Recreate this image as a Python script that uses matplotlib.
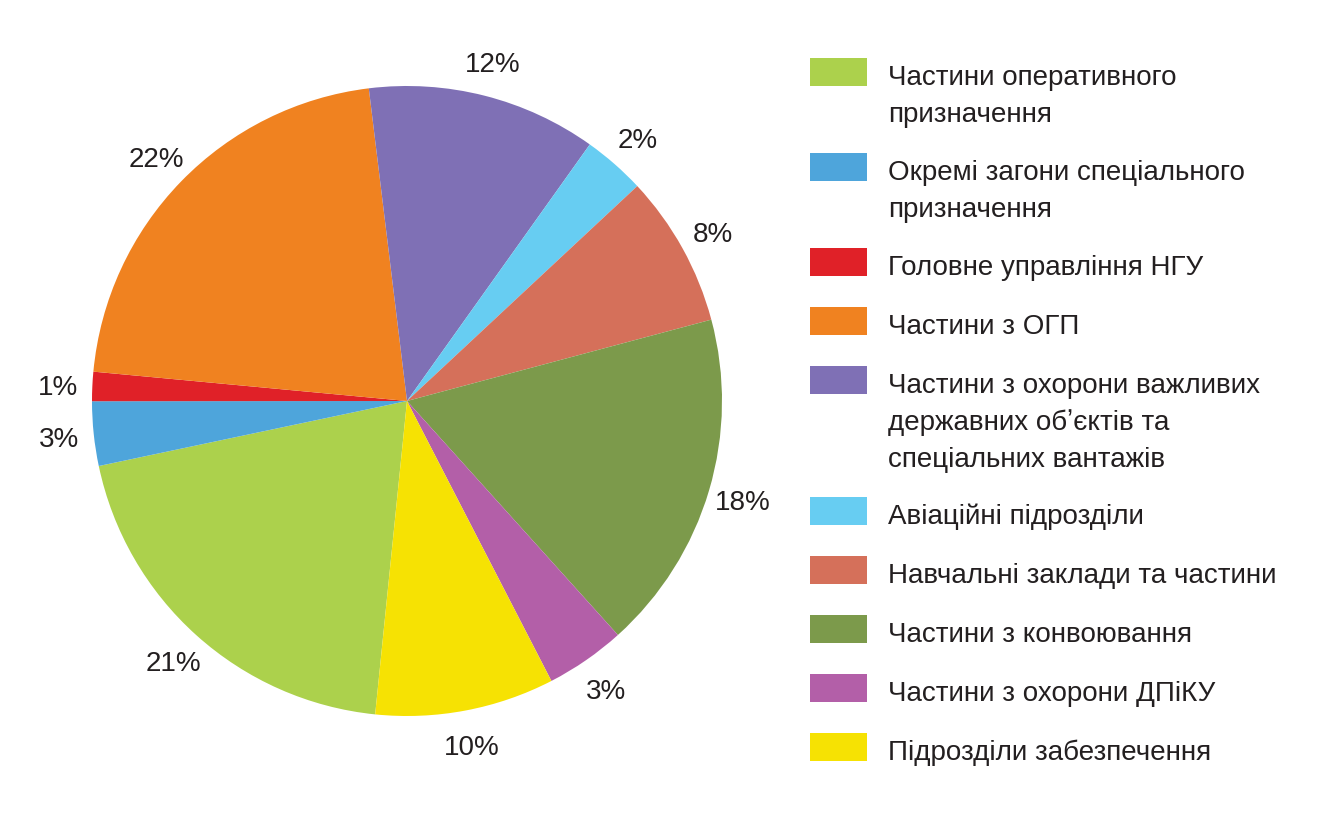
#!/usr/bin/env python
"""Pie chart: structure of the National Guard units."""
import matplotlib.pyplot as plt
from matplotlib.patches import Rectangle

plt.rcParams["font.family"] = ["Liberation Sans", "DejaVu Sans"]

CATEGORIES = [
    "Частини оперативного\nпризначення",
    "Окремі загони спеціального\nпризначення",
    "Головне управління НГУ",
    "Частини з ОГП",
    "Частини з охорони важливих\nдержавних об\u02bcєктів та\nспеціальних вантажів",
    "Авіаційні підрозділи",
    "Навчальні заклади та частини",
    "Частини з конвоювання",
    "Частини з охорони ДПіКУ",
    "Підрозділи забезпечення",
]
# slice sizes as measured from the wedge angles
SHARES = [20.1, 3.3, 1.5, 21.6, 11.8, 3.2, 7.8, 17.5, 4.1, 9.2]
# printed labels
PCT_LABELS = ["21%", "3%", "1%", "22%", "12%", "2%", "8%", "18%", "3%", "10%"]
COLORS = [
    "#acd14c", "#4ea5db", "#e02128", "#f08220", "#7f70b5",
    "#67cdf2", "#d5705a", "#7c9a4b", "#b35fa8", "#f6e203",
]

W, H = 1322, 839
TEXT_COLOR = "#231f20"
FONT_SIZE = 20

fig = plt.figure(figsize=(W / 100, H / 100), dpi=100)

# pie centre (407, 401) px, radius 315 px; axes spans +/-1.25 radius
cx, cy, r = 407, 401, 315
half = 1.25 * r
ax = fig.add_axes([(cx - half) / W, (H - cy - half) / H, 2 * half / W, 2 * half / H])
wedges, texts = ax.pie(
    SHARES,
    labels=PCT_LABELS,
    colors=COLORS,
    startangle=264.2,
    counterclock=False,
    labeldistance=1.11,
    textprops={"fontsize": FONT_SIZE, "color": TEXT_COLOR},
)
for t in texts:
    t.set_ha("center")
    t.set_va("center_baseline")
ax.set_xlim(-1.25, 1.25)
ax.set_ylim(-1.25, 1.25)
ax.set_aspect("equal")

# legend drawn by hand: box + wrapped lines
box_x, box_w, box_h = 810, 57, 28
text_x = 888
line_step = 37
y_top = 58
for label, color in zip(CATEGORIES, COLORS):
    lines = label.split("\n")
    fig.patches.append(Rectangle(
        (box_x / W, (H - y_top - box_h) / H), box_w / W, box_h / H,
        transform=fig.transFigure, facecolor=color, edgecolor="none",
    ))
    for i, line in enumerate(lines):
        baseline = y_top + 27 + i * line_step
        fig.text(text_x / W, (H - baseline) / H, line, fontsize=FONT_SIZE,
                 color=TEXT_COLOR, ha="left", va="baseline")
    y_top += 59 + 36 * (len(lines) - 1)

fig.savefig("out.png", dpi=100)
